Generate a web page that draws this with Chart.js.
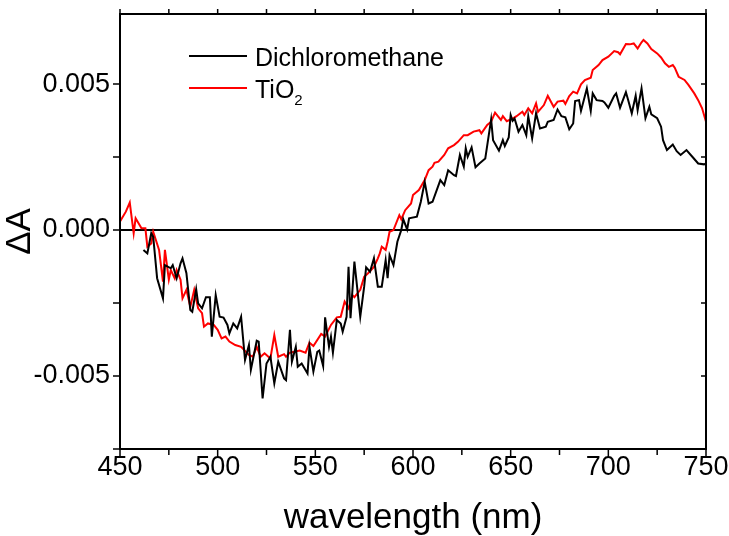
<!DOCTYPE html>
<html>
<head>
<meta charset="utf-8">
<script src="https://cdn.jsdelivr.net/npm/chart.js@4.4.0/dist/chart.umd.min.js"></script>
<style>
  html, body { margin: 0; padding: 0; background: #fff; }
  #caja { width: 729px; height: 536px; }
</style>
</head>
<body>
<div id="caja"><canvas id="espectro"></canvas></div>
<script>
const FUENTE = "'Liberation Sans', Arial, sans-serif";

// Dichloromethane
const dcmNm = [462, 464, 466, 467, 469, 472, 473, 476, 477, 479, 481, 482, 484, 486, 487, 489, 490, 492, 494, 496,
  497, 499, 501, 503, 505, 506, 508, 510, 512, 514, 516, 517, 520, 521, 523, 525, 527, 529, 531, 534,
  535, 537, 538, 540, 541, 543, 546, 547, 549, 551, 552, 554, 555, 557, 558, 559, 561, 563, 564, 566,
  567, 568, 570, 571, 573, 575, 576, 578, 580, 582, 584, 586, 587, 588, 590, 592, 594, 595, 597, 598,
  602, 604, 606, 608, 610, 614, 616, 618, 621, 622, 624, 626, 627, 628, 630, 632, 634, 637, 640, 641,
  644, 646, 647, 649, 650, 651, 652, 654, 656, 658, 659, 661, 663, 665, 668, 669, 672, 674, 676, 678,
  680, 682, 683, 685, 686, 689, 691, 692, 694, 697, 698, 700, 703, 704, 706, 709, 710, 712, 714, 715,
  717, 719, 721, 722, 725, 727, 728, 730, 733, 735, 737, 740, 743, 746, 749, 750];
const dcmDA = [-0.00068, -0.0008, -0.00011, -0.00023, -0.00165, -0.00234, -0.0012, -0.00131, -0.0012, -0.00165,
  -0.00114, -0.00097, -0.00148, -0.00274, -0.0028, -0.00203, -0.00251, -0.00268, -0.0023, -0.0023,
  -0.00365, -0.00223, -0.00297, -0.003, -0.00325, -0.00354, -0.0032, -0.00337, -0.00297, -0.00445,
  -0.00394, -0.00479, -0.00379, -0.00382, -0.00577, -0.00457, -0.00434, -0.00525, -0.00451, -0.00508,
  -0.00514, -0.00342, -0.00451, -0.004, -0.00468, -0.00457, -0.00491, -0.004, -0.00485, -0.00417,
  -0.00413, -0.00466, -0.00299, -0.004, -0.00365, -0.0042, -0.00308, -0.0032, -0.00348, -0.00297,
  -0.00126, -0.00302, -0.00108, -0.00171, -0.00297, -0.00194, -0.00128, -0.00143, -0.00097, -0.00194,
  -0.00194, -0.00103, -0.00165, -0.00086, -0.0012, -0.0004, 0, 0.00037, 0.00002, 0.0004,
  0.00046, 0.00097, 0.00165, 0.00091, 0.00097, 0.00171, 0.00154, 0.00205, 0.00188, 0.00185,
  0.00257, 0.00217, 0.0028, 0.00251, 0.00283, 0.00215, 0.00228, 0.00245, 0.00379, 0.00308,
  0.00272, 0.00308, 0.00288, 0.00317, 0.00394, 0.00374, 0.00382, 0.00337, 0.0036, 0.00325,
  0.0039, 0.00314, 0.004, 0.00348, 0.00354, 0.00371, 0.00377, 0.00413, 0.0039, 0.00386,
  0.00345, 0.00365, 0.00442, 0.00445, 0.00408, 0.00485, 0.00408, 0.00468, 0.00445, 0.00442,
  0.00437, 0.00419, 0.0046, 0.00468, 0.00419, 0.00472, 0.00449, 0.004, 0.0046, 0.00411,
  0.00485, 0.00383, 0.00422, 0.00396, 0.00383, 0.00354, 0.00308, 0.00274, 0.00293, 0.0027,
  0.00257, 0.00274, 0.00251, 0.00228, 0.00225, 0.00228];

// TiO2
const tioNm = [450, 453, 455, 457, 458, 461, 463, 464, 466, 467, 470, 472, 473, 475, 476, 478, 479, 481, 482, 484,
  486, 488, 490, 492, 493, 495, 498, 500, 502, 504, 506, 509, 512, 516, 518, 520, 522, 524, 527, 529,
  531, 534, 535, 537, 542, 545, 547, 549, 553, 555, 558, 561, 563, 565, 567, 569, 570, 573, 575, 577,
  580, 582, 583, 584, 586, 587, 588, 590, 593, 594, 596, 599, 600, 603, 606, 608, 610, 611, 613, 616,
  618, 621, 623, 626, 628, 631, 634, 635, 638, 640, 642, 645, 646, 648, 651, 653, 656, 657, 659, 661,
  663, 664, 667, 669, 672, 674, 677, 678, 680, 682, 684, 686, 688, 691, 692, 695, 697, 700, 703, 705,
  706, 709, 711, 713, 715, 717, 718, 720, 722, 725, 727, 729, 731, 733, 734, 736, 739, 741, 744, 746,
  748, 750];
const tioDA = [0.00029, 0.00063, 0.00094, -0.00011, 0.0004, 0.00006, 0.00006, -0.00057, -0.00046, -0.00006,
  -0.00068, -0.00177, -0.00068, -0.0017, -0.00137, -0.00165, -0.00137, -0.0017, -0.00234, -0.00205,
  -0.00263, -0.00205, -0.00268, -0.00285, -0.00331, -0.0032, -0.00325, -0.00342, -0.00371, -0.00365,
  -0.00382, -0.00394, -0.004, -0.00428, -0.00434, -0.004, -0.00434, -0.00422, -0.0044, -0.0036,
  -0.00434, -0.00425, -0.00434, -0.0042, -0.00413, -0.0042, -0.00386, -0.00397, -0.00356, -0.00365,
  -0.00325, -0.00299, -0.00297, -0.00245, -0.00268, -0.00223, -0.0023, -0.00205, -0.0016, -0.00148,
  -0.00126, -0.00097, -0.0008, -0.00057, -0.00068, -0.0004, -0.00006, 0, 0.00051, 0.00037,
  0.00068, 0.00091, 0.0012, 0.00137, 0.00171, 0.00205, 0.00217, 0.0023, 0.00234, 0.00257,
  0.0028, 0.00291, 0.00302, 0.00325, 0.00325, 0.00337, 0.00342, 0.00331, 0.0036, 0.00371,
  0.00402, 0.00377, 0.0039, 0.00373, 0.00382, 0.0039, 0.00405, 0.00394, 0.00417, 0.004,
  0.00434, 0.00405, 0.00428, 0.0046, 0.00422, 0.0044, 0.00443, 0.00432, 0.00459, 0.00474,
  0.00468, 0.00499, 0.00514, 0.00522, 0.00548, 0.00565, 0.00582, 0.00594, 0.00613, 0.00609,
  0.00602, 0.00637, 0.00636, 0.00639, 0.00622, 0.00643, 0.00651, 0.00639, 0.0062, 0.00605,
  0.00591, 0.00571, 0.00559, 0.00565, 0.00556, 0.00525, 0.00514, 0.00497, 0.00468, 0.00445,
  0.00417, 0.00371];

const etiquetas = ['Dichloromethane', 'TiO2'];
const xTicks = [450, 475, 500, 525, 550, 575, 600, 625, 650, 675, 700, 725, 750];
const yTicks = [-0.0075, -0.005, -0.0025, 0, 0.0025, 0.005];

const puntos = (xs, ys) => xs.map((v, i) => ({ x: v, y: ys[i] }));

// marco, ticks, linea de cero y leyenda
const marco = {
  id: 'marco',
  beforeDatasetsDraw(chart) {
    const { ctx, chartArea: a, scales: { y } } = chart;
    const y0 = y.getPixelForValue(0);
    ctx.save();
    ctx.strokeStyle = '#000';
    ctx.lineWidth = 2;
    ctx.beginPath();
    ctx.moveTo(a.left, y0);
    ctx.lineTo(a.right, y0);
    ctx.stroke();
    ctx.restore();
  },
  afterDatasetsDraw(chart) {
    const { ctx, chartArea: a, scales: { x, y } } = chart;
    ctx.save();
    ctx.strokeStyle = '#000';
    ctx.lineWidth = 2;
    ctx.strokeRect(a.left, a.top, a.right - a.left, a.bottom - a.top);
    ctx.lineWidth = 1.5;
    ctx.beginPath();
    xTicks.forEach(v => {
      const px = x.getPixelForValue(v);
      const largo = v % 50 === 0 ? 8 : 6;
      ctx.moveTo(px, a.bottom);
      ctx.lineTo(px, a.bottom + largo);
      ctx.moveTo(px, a.top);
      ctx.lineTo(px, a.top - 5);
    });
    yTicks.forEach(v => {
      const py = y.getPixelForValue(v);
      ctx.moveTo(a.left, py);
      ctx.lineTo(a.left - 7, py);
      ctx.moveTo(a.right, py);
      ctx.lineTo(a.right - 5, py);
    });
    ctx.stroke();

    // leyenda
    chart.data.datasets.forEach((ds, i) => {
      const yl = 56 + i * 32;
      ctx.strokeStyle = ds.borderColor;
      ctx.lineWidth = 2;
      ctx.beginPath();
      ctx.moveTo(189, yl);
      ctx.lineTo(247, yl);
      ctx.stroke();
      ctx.fillStyle = '#000';
      ctx.textBaseline = 'alphabetic';
      ctx.textAlign = 'left';
      const m = ds.label.match(/^(.*?)(\d+)$/);
      const base = m ? m[1] : ds.label;
      ctx.font = '25px ' + FUENTE;
      ctx.fillText(base, 255, yl + 10);
      if (m) {
        const w = ctx.measureText(base).width;
        ctx.font = '15px ' + FUENTE;
        ctx.fillText(m[2], 255 + w, yl + 17);
      }
    });
    ctx.restore();
  }
};

new Chart(document.getElementById('espectro'), {
  type: 'line',
  data: {
    datasets: [{
      label: etiquetas[0],
      data: puntos(dcmNm, dcmDA),
      borderColor: '#000000',
      borderWidth: 2,
      pointRadius: 0,
      tension: 0
    }, {
      label: etiquetas[1],
      data: puntos(tioNm, tioDA),
      borderColor: '#ff0000',
      borderWidth: 2,
      pointRadius: 0,
      tension: 0
    }]
  },
  options: {
    responsive: true,
    maintainAspectRatio: false,
    animation: false,
    events: [],
    layout: { autoPadding: false, padding: { top: 14, right: 23, left: 0, bottom: 0 } },
    plugins: { legend: { display: false }, tooltip: { enabled: false } },
    scales: {
      x: {
        type: 'linear',
        min: 450,
        max: 750,
        afterBuildTicks: s => { s.ticks = xTicks.map(v => ({ value: v })); },
        afterFit: s => { s.height = 87; s.paddingLeft = 0; s.paddingRight = 0; },
        grid: { display: false, drawTicks: false },
        border: { display: false },
        ticks: {
          padding: 5,
          color: '#000',
          maxRotation: 0,
          autoSkip: false,
          font: { family: FUENTE, size: 27, lineHeight: 1 },
          callback: v => (v % 50 === 0 ? String(v) : '')
        },
        title: {
          display: true,
          text: 'wavelength (nm)',
          color: '#000',
          padding: 0,
          font: { family: FUENTE, size: 35, lineHeight: 1 }
        }
      },
      y: {
        min: -0.0075,
        max: 0.0074,
        afterBuildTicks: s => { s.ticks = yTicks.map(v => ({ value: v })); },
        afterFit: s => { s.width = 120; s.paddingTop = 0; s.paddingBottom = 0; },
        grid: { display: false, drawTicks: false },
        border: { display: false },
        ticks: {
          padding: 10,
          color: '#000',
          autoSkip: false,
          font: { family: FUENTE, size: 27, lineHeight: 1 },
          callback: v => (Math.abs(v / 0.005 - Math.round(v / 0.005)) < 1e-6 ? v.toFixed(3) : '')
        },
        title: {
          display: true,
          text: 'ΔA',
          color: '#000',
          padding: 3,
          font: { family: FUENTE, size: 35, lineHeight: 1 }
        }
      }
    }
  },
  plugins: [marco]
});
</script>
</body>
</html>
